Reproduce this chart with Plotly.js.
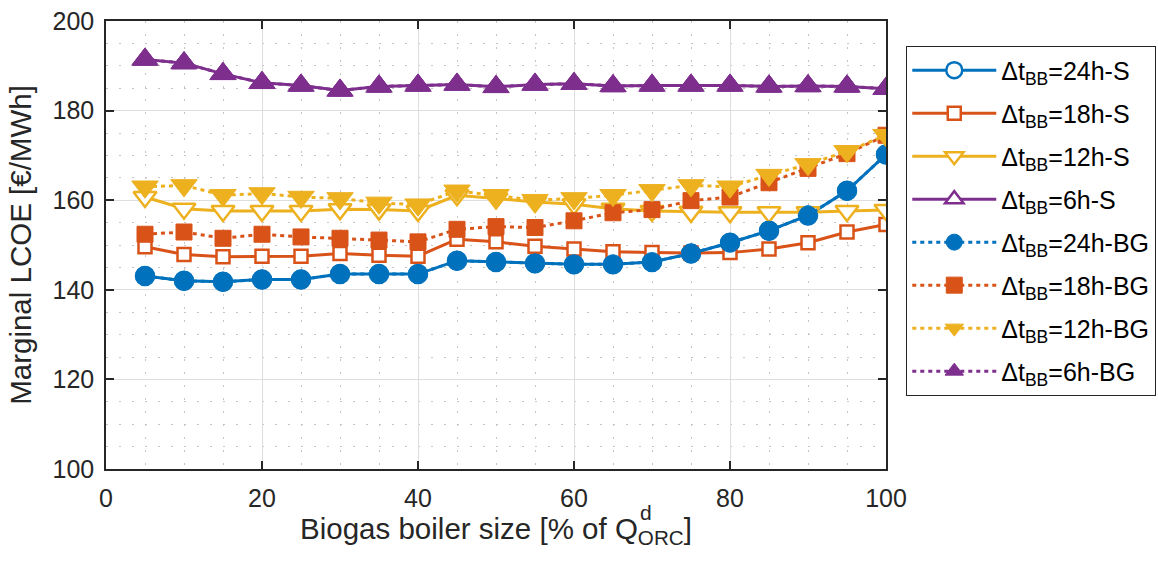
<!DOCTYPE html>
<html>
<head>
<meta charset="utf-8">
<script src="https://cdn.plot.ly/plotly-3.0.1.min.js"></script>
<style>
  html, body { margin: 0; padding: 0; background: #ffffff; }
  #chart { width: 1158px; height: 568px; }
</style>
</head>
<body>
<div id="chart"></div>
<script>
// ---- data ----
const boilerSize = [5, 10, 15, 20, 25, 30, 35, 40, 45, 50, 55, 60, 65, 70, 75, 80, 85, 90, 95, 100];

const lcoe24hS  = [143.1, 142.0, 141.8, 142.3, 142.3, 143.5, 143.5, 143.5, 146.5, 146.2, 145.9, 145.7, 145.7, 146.2, 148.1, 150.5, 153.2, 156.6, 162.1, 170.2];
const lcoe18hS  = [149.6, 147.9, 147.4, 147.5, 147.5, 148.1, 147.7, 147.5, 151.3, 150.7, 149.7, 149.1, 148.5, 148.3, 148.2, 148.3, 149.1, 150.5, 152.9, 154.6];
const lcoe12hS  = [160.7, 158.1, 157.6, 157.6, 157.6, 158.0, 157.9, 157.6, 161.1, 160.4, 159.6, 159.1, 158.1, 157.6, 157.4, 157.3, 157.3, 157.3, 157.6, 157.8];
const lcoe6hS   = [191.4, 190.6, 188.2, 186.2, 185.6, 184.5, 185.4, 185.6, 185.8, 185.3, 185.8, 186.0, 185.5, 185.6, 185.6, 185.6, 185.4, 185.5, 185.4, 184.9];

const lcoe24hBG = [143.1, 142.0, 141.8, 142.3, 142.3, 143.5, 143.5, 143.5, 146.5, 146.2, 145.9, 145.7, 145.7, 146.2, 148.1, 150.5, 153.2, 156.6, 162.1, 170.2];
const lcoe18hBG = [152.4, 152.9, 151.5, 152.4, 151.8, 151.5, 151.1, 150.7, 153.5, 154.1, 153.9, 155.4, 157.2, 157.9, 159.9, 160.7, 163.9, 167.1, 170.4, 174.5];
const lcoe12hBG = [163.0, 163.3, 161.1, 161.5, 160.7, 160.4, 159.4, 159.0, 162.1, 161.1, 160.0, 160.4, 161.1, 162.2, 163.3, 163.0, 165.6, 168.0, 170.9, 174.5];
const lcoe6hBG  = [191.4, 190.6, 188.2, 186.2, 185.6, 184.5, 185.4, 185.6, 185.8, 185.3, 185.8, 186.0, 185.5, 185.6, 185.6, 185.6, 185.4, 185.5, 185.4, 184.9];

const seriesNames = [
  'Δt<sub>BB</sub>=24h-S', 'Δt<sub>BB</sub>=18h-S', 'Δt<sub>BB</sub>=12h-S', 'Δt<sub>BB</sub>=6h-S',
  'Δt<sub>BB</sub>=24h-BG', 'Δt<sub>BB</sub>=18h-BG', 'Δt<sub>BB</sub>=12h-BG', 'Δt<sub>BB</sub>=6h-BG'
];
const xTicks = [0, 20, 40, 60, 80, 100];
const yTicks = [100, 120, 140, 160, 180, 200];

// ---- styles ----
const BLUE = '#0072BD', ORANGE = '#D95319', YELLOW = '#EDB120', PURPLE = '#7E2F8E';
const FONT = 'Liberation Sans, Arial, Helvetica, sans-serif';
const TXT = '#262626';

function sTrace(y, name, color, symbol, size, group) {
  return {
    x: boilerSize, y: y, name: name, type: 'scatter', mode: 'lines+markers',
    legendgroup: group,
    line: { color: color, width: 3, dash: 'solid' },
    marker: { symbol: symbol, size: size, color: '#ffffff', line: { color: color, width: 2.5 } },
    hoverinfo: 'x+y'
  };
}
function bgTrace(y, name, color, symbol, size, group) {
  return {
    x: boilerSize, y: y, name: name, type: 'scatter', mode: 'lines+markers',
    legendgroup: group,
    line: { color: color, width: 3, dash: '4px,4px' },
    marker: { symbol: symbol, size: size, color: color, line: { color: color, width: 1 } },
    hoverinfo: 'x+y'
  };
}

const data = [
  sTrace(lcoe24hS, seriesNames[0], BLUE, 'circle', 18, 'g1'),
  sTrace(lcoe18hS, seriesNames[1], ORANGE, 'square', 13, 'g2'),
  sTrace(lcoe12hS, seriesNames[2], YELLOW, 'triangle-down', 20, 'g3'),
  sTrace(lcoe6hS, seriesNames[3], PURPLE, 'triangle-up', 20, 'g4'),
  bgTrace(lcoe24hBG, seriesNames[4], BLUE, 'circle', 19, 'g5'),
  bgTrace(lcoe18hBG, seriesNames[5], ORANGE, 'square', 16, 'g6'),
  bgTrace(lcoe12hBG, seriesNames[6], YELLOW, 'triangle-down', 23, 'g7'),
  bgTrace(lcoe6hBG, seriesNames[7], PURPLE, 'triangle-up', 23, 'g8')
];

const axisCommon = {
  showline: true, linecolor: TXT, linewidth: 1.5, mirror: 'ticks',
  ticks: 'inside', ticklen: 8, tickwidth: 1.5, tickcolor: TXT,
  showgrid: true, gridcolor: '#dedede', gridwidth: 1,
  zeroline: false,
  tickfont: { family: FONT, size: 25, color: TXT },
  minor: { dtick: 5, showgrid: true, gridcolor: '#c4c4c4', gridwidth: 1, griddash: '2px,11px', ticks: '' }
};

const layout = {
  width: 1158, height: 568,
  paper_bgcolor: '#ffffff', plot_bgcolor: '#ffffff',
  margin: { l: 106, r: 272, t: 21, b: 99, pad: 0, autoexpand: false },
  font: { family: FONT, color: TXT },
  showlegend: true,
  xaxis: Object.assign({}, axisCommon, {
    range: [0, 100], tickvals: xTicks, ticktext: xTicks.map(String),
    ticklabelstandoff: 6,
    title: { text: 'Biogas boiler size [% of Q<sub>ORC</sub>]', font: { family: FONT, size: 29.5, color: TXT }, standoff: 4 }
  }),
  yaxis: Object.assign({}, axisCommon, {
    range: [100, 200], tickvals: yTicks, ticktext: yTicks.map(String),
    ticklabelstandoff: 5,
    title: { text: 'Marginal LCOE [€/MWh]', font: { family: FONT, size: 29.5, color: TXT }, standoff: 12 }
  }),
  legend: {
    x: 1.0256, xanchor: 'left', y: 0.944, yanchor: 'top',
    bgcolor: '#ffffff', bordercolor: TXT, borderwidth: 1.3,
    font: { family: FONT, size: 25, color: '#000000' },
    traceorder: 'grouped', tracegroupgap: 7.5,
    itemwidth: 84, itemsizing: 'trace'
  },
  annotations: [
    { text: 'd', xref: 'paper', yref: 'paper', x: 0.692, y: -0.096, xanchor: 'center', yanchor: 'middle',
      showarrow: false, font: { family: FONT, size: 21, color: TXT } }
  ]
};

Plotly.newPlot('chart', data, layout, { displayModeBar: false, responsive: false });
</script>
</body>
</html>
